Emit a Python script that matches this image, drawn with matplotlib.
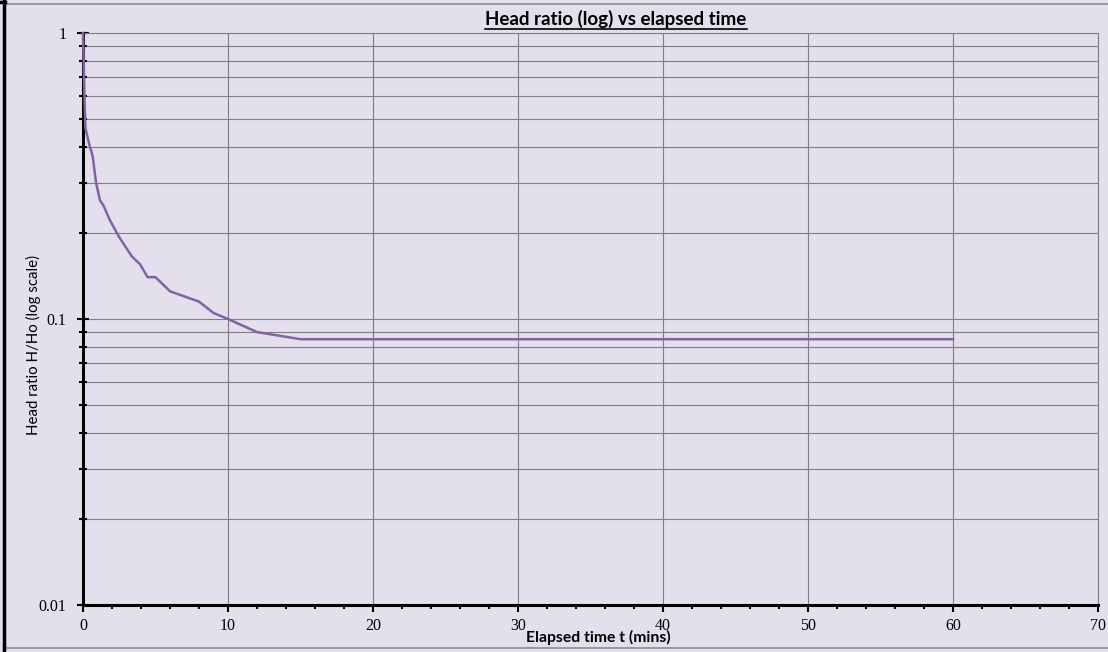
import matplotlib
matplotlib.use("Agg")
import matplotlib.pyplot as plt
from matplotlib.ticker import FixedLocator, NullFormatter, MultipleLocator
from matplotlib.lines import Line2D
from matplotlib.patches import Rectangle

# ---- data ----
time_min = [0, 0.1, 0.17, 0.42, 0.67, 0.9, 1.17, 1.4, 1.85, 2.45, 3.35, 3.95,
            4.45, 5, 6, 8, 9, 10, 12, 15, 20, 30, 40, 50, 60]
head_ratio = [1.0, 0.6, 0.464, 0.41, 0.37, 0.30, 0.26, 0.25, 0.222, 0.195, 0.166, 0.155,
              0.14, 0.14, 0.125, 0.115, 0.105, 0.10, 0.09, 0.085, 0.085, 0.085, 0.085, 0.085, 0.085]
x_ticks = [0, 10, 20, 30, 40, 50, 60, 70]
y_ticks = [0.01, 0.1, 1]
y_tick_labels = ["0.01", "0.1", "1"]
title = "Head ratio (log) vs elapsed time"
xlabel = "Elapsed time t (mins)"
ylabel = "Head ratio H/Ho (log scale)"

BG = "#E4DFEC"
GRID = "#7F7F7F"
LINE = "#8064A2"

W, H = 1108, 652
fig = plt.figure(figsize=(W / 100, H / 100), dpi=100, facecolor=BG)

# outer frame
fig.patches.append(Rectangle((5 / W, 4 / H), 1110 / W, 644 / H, transform=fig.transFigure,
                             fill=False, edgecolor="#8C8C8C", linewidth=1.2))
fig.lines.append(Line2D([4 / W, 4 / W], [0, 1], transform=fig.transFigure, color="black", linewidth=2.5))
fig.lines.append(Line2D([0, 5 / W], [1 - 1.5 / H, 1 - 1.5 / H], transform=fig.transFigure, color="black", linewidth=2.5))

ax = fig.add_axes([83 / W, 1 - 605 / H, (1098 - 83) / W, (605 - 33) / H])
ax.set_facecolor(BG)
ax.set_yscale("log")
ax.set_xlim(0, 70)
ax.set_ylim(0.01, 1)

ax.plot(time_min, head_ratio, color=LINE, linewidth=1.8, zorder=5, clip_on=False)

ax.xaxis.set_major_locator(FixedLocator(x_ticks))
ax.xaxis.set_minor_locator(MultipleLocator(2))
ax.yaxis.set_major_locator(FixedLocator(y_ticks))
ax.set_yticklabels(y_tick_labels)
minors = [m * 10.0 ** e for e in (-2, -1) for m in range(2, 10)]
ax.yaxis.set_minor_locator(FixedLocator(minors))
ax.yaxis.set_minor_formatter(NullFormatter())

ax.grid(True, which="major", axis="both", color=GRID, linewidth=0.8)
ax.grid(True, which="minor", axis="y", color=GRID, linewidth=0.8)

for s in ("top", "right"):
    ax.spines[s].set_color(GRID)
    ax.spines[s].set_linewidth(0.8)
for s in ("left", "bottom"):
    ax.spines[s].set_color("black")
    ax.spines[s].set_linewidth(2.2)
    ax.spines[s].set_zorder(4)

ax.tick_params(axis="x", which="major", direction="out", length=5, width=1.5, pad=4)
ax.tick_params(axis="x", which="minor", direction="out", length=3, width=1.5)
ax.tick_params(axis="y", which="major", direction="inout", length=8, width=1.5, pad=8)
ax.tick_params(axis="y", which="minor", direction="inout", length=6, width=1.5)
for lab in ax.get_xticklabels() + ax.get_yticklabels():
    lab.set_fontfamily("Liberation Serif")
    lab.set_fontsize(11.5)

# axis labels
fig.text(598 / W, 1 - 637 / H, xlabel, ha="center", va="center",
         fontsize=11.3, fontweight="bold", family="Lato")
fig.text(33 / W, 1 - 345 / H, ylabel, ha="center", va="center", rotation=90,
         fontsize=10.8, family="Lato")

# title with underline
t = fig.text(616 / W, 1 - 19 / H, title, ha="center", va="center",
             fontsize=13.5, fontweight="bold", family="Lato")
fig.canvas.draw()
bb = t.get_window_extent(renderer=fig.canvas.get_renderer())
yline = (bb.y0 - 0.5) / H
fig.lines.append(Line2D([bb.x0 / W, bb.x1 / W], [yline, yline], transform=fig.transFigure,
                        color="black", linewidth=1.2))

fig.savefig("out.png", dpi=100, facecolor=BG)
